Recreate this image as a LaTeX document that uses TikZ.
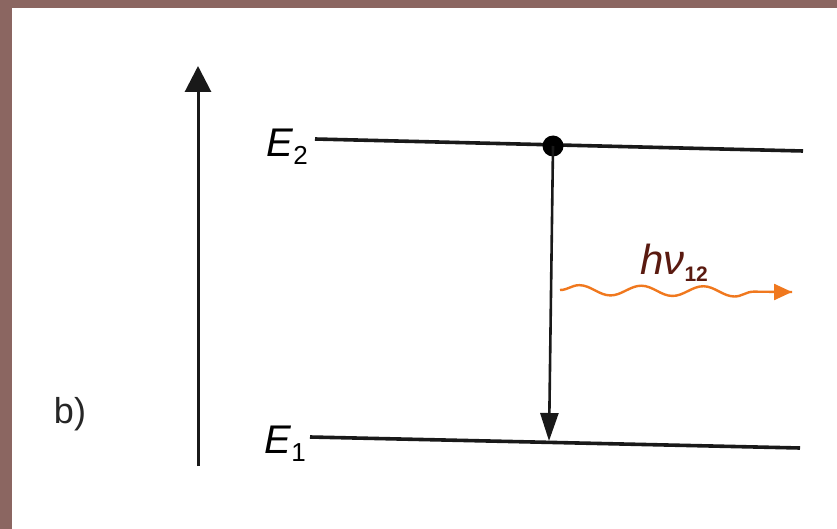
\documentclass[tikz,border=0pt]{standalone}
\usepackage{fontspec}
\setmainfont{Liberation Sans}
\usetikzlibrary{arrows.meta,decorations.pathmorphing}
\definecolor{frame}{HTML}{8B6661}
\definecolor{photon}{HTML}{F0781E}
\definecolor{lbl}{HTML}{5A1A10}
\tikzset{
  level/.style={line width=3.6pt, black!90},
  axis/.style={line width=3pt, black!90, -{Triangle[length=26pt,width=26pt]}},
  trans/.style={line width=2.6pt, black!90, -{Triangle[length=28pt,width=18pt]}},
  elbl/.style={font=\fontsize{40}{40}\selectfont\itshape, inner sep=0pt},
}
\begin{document}
\begin{tikzpicture}[x=1pt,y=-1pt]
\useasboundingbox (0,0) rectangle (837,529);
\fill[white] (0,0) rectangle (837,529);
\fill[frame] (0,0) rectangle (837,8);
\fill[frame] (0,0) rectangle (12,529);
% energy axis
\coordinate (ax0) at (198,466);
\coordinate (ax1) at (198,66);
\draw[axis] (ax0) -- (ax1);
% levels
\coordinate (e2a) at (315,139);
\coordinate (e2b) at (803,151);
\coordinate (e1a) at (310,437);
\coordinate (e1b) at (800,448);
\draw[level] (e2a) -- (e2b);
\draw[level] (e1a) -- (e1b);
\node[elbl, anchor=east] (E2) at (308,147) {E\raisebox{-8pt}{\upshape\fontsize{26}{26}\selectfont 2}};
\node[elbl, anchor=east] (E1) at (306,444) {E\raisebox{-8pt}{\upshape\fontsize{26}{26}\selectfont 1}};
% electron and transition
\node[circle, fill=black, inner sep=0pt, minimum size=21pt] (dot) at (553,146) {};
\coordinate (land) at (549,441);
\draw[trans] (dot.center) -- (land);
% photon
\coordinate (ph0) at (560,290);
\coordinate (ph1) at (792,292);
\draw[photon, line width=2.4pt, decorate, decoration={snake, segment length=62pt, amplitude=5pt, post length=24pt}] (ph0) -- (ph1);
\draw[photon, line width=2.4pt, -{Triangle[length=18pt,width=16pt]}] (774,292) -- (ph1);
\node[lbl, inner sep=0pt, font=\fontsize{42}{42}\selectfont\itshape, anchor=base west] (hv) at (640,274) {hν\raisebox{-7pt}{\upshape\bfseries\fontsize{21}{21}\selectfont 12}};
% panel label
\node[font=\fontsize{36}{36}\selectfont, inner sep=0pt, black!85] (b) at (70,414) {b)};
\end{tikzpicture}
\end{document}
